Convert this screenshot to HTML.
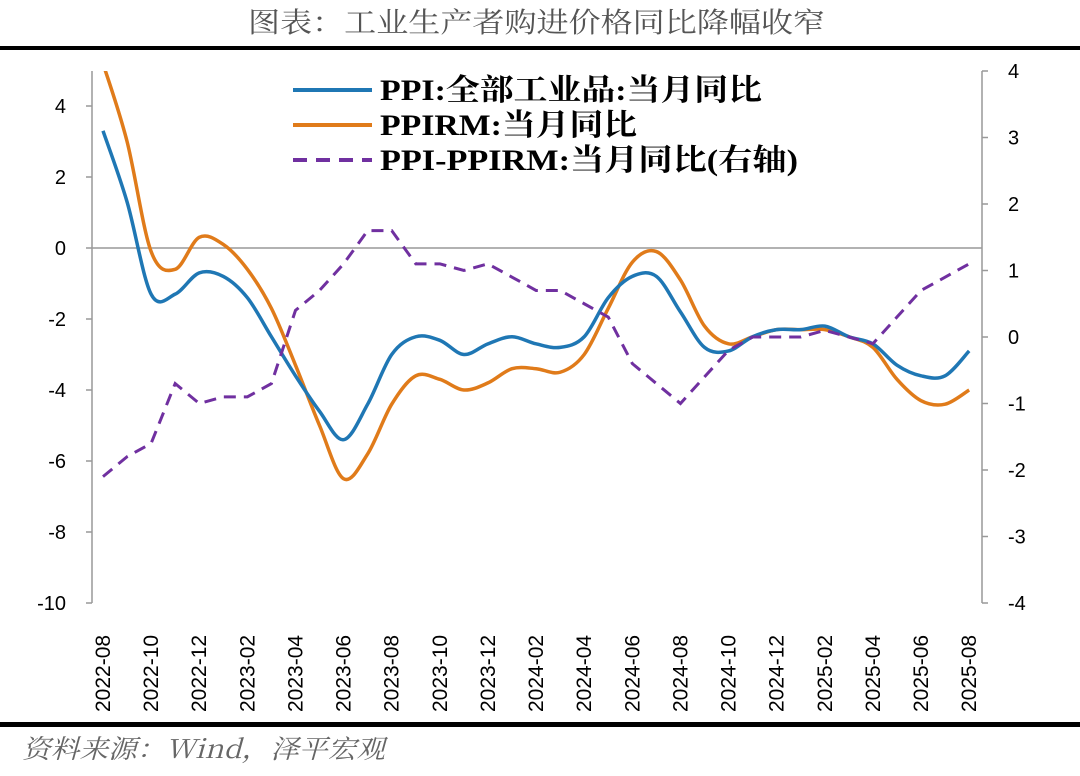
<!DOCTYPE html>
<html><head><meta charset="utf-8"><style>
body{margin:0;background:#fff;}
svg{display:block;}
</style></head><body>
<svg id="s" width="1080" height="776" xmlns="http://www.w3.org/2000/svg" font-family="Liberation Sans, sans-serif">
<text x="248" y="32" font-size="28" fill="#555" font-family="Noto Serif CJK SC, Noto Sans CJK SC, serif" textLength="577" lengthAdjust="spacingAndGlyphs">图表：工业生产者购进价格同比降幅收窄</text>
<rect x="0" y="46" width="1080" height="4" fill="#000"/>
<rect x="0" y="722" width="1080" height="5" fill="#000"/>
<text x="22" y="758" font-size="26" fill="#666" font-style="italic" font-family="Noto Serif CJK SC, Liberation Serif, serif" textLength="363" lengthAdjust="spacingAndGlyphs">资料来源：Wind，泽平宏观</text>
<g id="axes" stroke="#999" stroke-width="1.5" fill="none"></g>
<g id="labels" font-size="20" fill="#000"></g>
<g id="series"></g>
<g font-family="Liberation Serif, Noto Serif CJK SC, serif" font-weight="bold" font-size="30">
<line x1="293" y1="90" x2="372" y2="90" stroke="#1F77B4" stroke-width="4"/>
<text x="380" y="100" textLength="382" lengthAdjust="spacingAndGlyphs">PPI:全部工业品:当月同比</text>
<line x1="293" y1="125" x2="372" y2="125" stroke="#E07B1A" stroke-width="4"/>
<text x="380" y="135" textLength="257" lengthAdjust="spacingAndGlyphs">PPIRM:当月同比</text>
<line x1="293" y1="160" x2="372" y2="160" stroke="#7030A0" stroke-width="4" stroke-dasharray="14,9"/>
<text x="380" y="170" textLength="418" lengthAdjust="spacingAndGlyphs">PPI-PPIRM:当月同比(右轴)</text>
</g>
</svg>
<script>
var NS="http://www.w3.org/2000/svg";
function el(p,t,a,txt){var e=document.createElementNS(NS,t);for(var k in a)e.setAttribute(k,a[k]);if(txt!=null)e.textContent=txt;document.getElementById(p).appendChild(e);return e;}
var x0=103,dx=24.06;
function X(i){return x0+i*dx;}
function YL(v){return 248-v*35.5;}
function YR(v){return 337-v*66.5;}
el("axes","line",{x1:92,y1:71,x2:92,y2:603});
el("axes","line",{x1:982,y1:71,x2:982,y2:603});
el("axes","line",{x1:92,y1:248,x2:982,y2:248});
for(var v=4;v>=-10;v-=2){var y=YL(v);el("axes","line",{x1:86,y1:y,x2:92,y2:y});el("labels","text",{x:66,y:y+7,"text-anchor":"end"},String(v));}
for(var v=4;v>=-4;v--){var y=YR(v);el("axes","line",{x1:982,y1:y,x2:988,y2:y});el("labels","text",{x:1008,y:y+7,"text-anchor":"start"},String(v));}
var months=[];
for(var i=0;i<37;i++){var m=7+i;var yr=2022+Math.floor(m/12);var mo=m%12+1;months.push(yr+"-"+(mo<10?"0":"")+mo);}
for(var i=0;i<37;i+=2){var x=X(i);el("labels","text",{x:0,y:0,transform:"translate("+(x+7)+",712) rotate(-90)","font-size":"21"},months[i]);}
var ppi=[3.3,1.3,-1.3,-1.3,-0.7,-0.8,-1.4,-2.5,-3.6,-4.6,-5.4,-4.4,-3.0,-2.5,-2.6,-3.0,-2.7,-2.5,-2.7,-2.8,-2.5,-1.4,-0.8,-0.8,-1.8,-2.8,-2.9,-2.5,-2.3,-2.3,-2.2,-2.5,-2.7,-3.3,-3.6,-3.6,-2.9];
var rm=[5.2,3.0,-0.1,-0.6,0.3,0.1,-0.6,-1.7,-3.3,-5.0,-6.5,-5.8,-4.4,-3.6,-3.7,-4.0,-3.8,-3.4,-3.4,-3.5,-3.0,-1.7,-0.4,-0.1,-0.9,-2.2,-2.7,-2.5,-2.3,-2.3,-2.3,-2.5,-2.8,-3.7,-4.3,-4.4,-4.0];
var d=[-2.1,-1.8,-1.6,-0.7,-1.0,-0.9,-0.9,-0.7,0.4,0.7,1.1,1.6,1.6,1.1,1.1,1.0,1.1,0.9,0.7,0.7,0.5,0.3,-0.4,-0.7,-1.0,-0.6,-0.2,0.0,0.0,0.0,0.1,0.0,-0.1,0.3,0.7,0.9,1.1];
function smooth(arr,f){var p=arr.map(function(v,i){return [X(i),f(v)];});var s="M"+p[0][0]+","+p[0][1];
for(var i=0;i<p.length-1;i++){var a=p[Math.max(0,i-1)],b=p[i],c=p[i+1],e=p[Math.min(p.length-1,i+2)];
var c1=[b[0]+(c[0]-a[0])/6,b[1]+(c[1]-a[1])/6],c2=[c[0]-(e[0]-b[0])/6,c[1]-(e[1]-b[1])/6];
s+=" C"+c1.join(",")+" "+c2.join(",")+" "+c.join(",");}return s;}
var cp=el("series","clipPath",{id:"cp"});var r=document.createElementNS(NS,"rect");r.setAttribute("x",92);r.setAttribute("y",71);r.setAttribute("width",890);r.setAttribute("height",532);cp.appendChild(r);
el("series","path",{d:smooth(rm,YL),stroke:"#E07B1A","stroke-width":3.5,fill:"none","clip-path":"url(#cp)"});
el("series","path",{d:smooth(ppi,YL),stroke:"#1F77B4","stroke-width":3.5,fill:"none"});
el("series","polyline",{points:d.map(function(v,i){return X(i)+","+YR(v);}).join(" "),stroke:"#7030A0","stroke-width":3,fill:"none","stroke-dasharray":"12,8"});
</script>
</body></html>
